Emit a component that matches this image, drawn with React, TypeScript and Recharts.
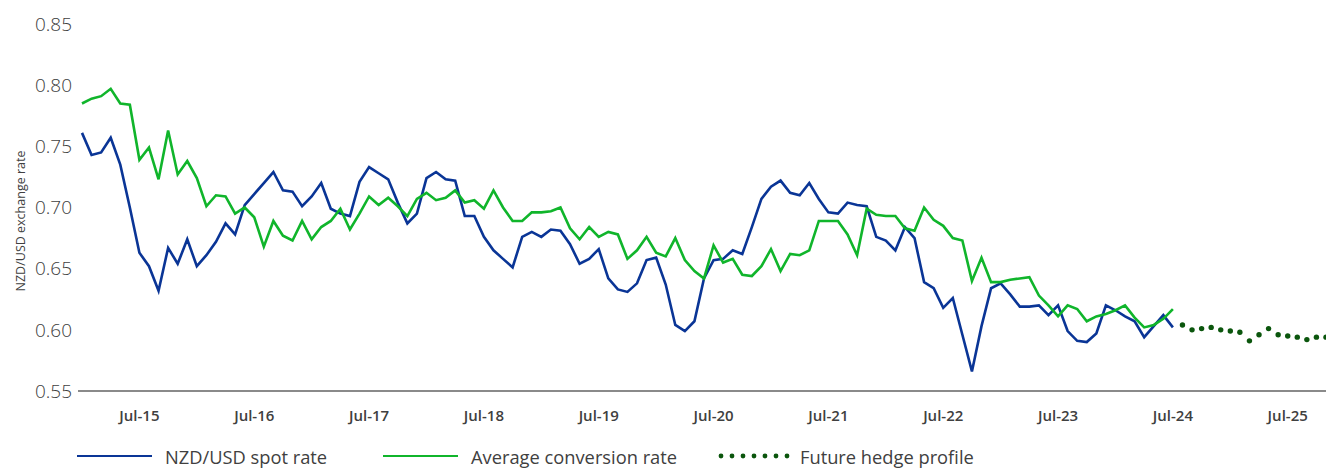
import { LineChart, Line, XAxis, YAxis, Legend } from "recharts";

// monthly data, Jan-15 to Nov-25
const MONTH_NAMES = ["Jan", "Feb", "Mar", "Apr", "May", "Jun", "Jul", "Aug", "Sep", "Oct", "Nov", "Dec"];
const FIRST_YEAR = 15;
const MONTH_COUNT = 131;

const spotRate = [
  0.761, 0.743, 0.745, 0.757, 0.735, 0.7, 0.663, 0.652, 0.632, 0.667, 0.654, 0.674, 0.652,
  0.661, 0.672, 0.687, 0.678, 0.702, 0.711, 0.72, 0.729, 0.714, 0.713, 0.701, 0.709, 0.72,
  0.699, 0.695, 0.693, 0.721, 0.733, 0.728, 0.723, 0.704, 0.687, 0.695, 0.724, 0.729, 0.723,
  0.722, 0.693, 0.693, 0.676, 0.665, 0.658, 0.651, 0.676, 0.68, 0.676, 0.682, 0.681, 0.67,
  0.654, 0.658, 0.666, 0.642, 0.633, 0.631, 0.638, 0.657, 0.659, 0.637, 0.604, 0.599, 0.607,
  0.642, 0.657, 0.658, 0.665, 0.662, 0.684, 0.707, 0.717, 0.722, 0.712, 0.71, 0.72, 0.707,
  0.696, 0.695, 0.704, 0.702, 0.701, 0.676, 0.673, 0.665, 0.684, 0.675, 0.639, 0.634, 0.618,
  0.626, 0.596, 0.566, 0.603, 0.634, 0.638, 0.629, 0.619, 0.619, 0.62, 0.612, 0.62, 0.599,
  0.591, 0.59, 0.597, 0.62, 0.616, 0.611, 0.607, 0.594, 0.603, 0.612, 0.602,
];

const avgConversion = [
  0.785, 0.789, 0.791, 0.797, 0.785, 0.784, 0.739, 0.749, 0.723, 0.763, 0.727, 0.738, 0.724,
  0.701, 0.71, 0.709, 0.695, 0.7, 0.692, 0.668, 0.689, 0.677, 0.673, 0.689, 0.674, 0.684,
  0.689, 0.699, 0.682, 0.695, 0.709, 0.702, 0.708, 0.701, 0.693, 0.707, 0.712, 0.706, 0.708,
  0.714, 0.704, 0.706, 0.699, 0.714, 0.7, 0.689, 0.689, 0.696, 0.696, 0.697, 0.7, 0.683,
  0.674, 0.684, 0.676, 0.68, 0.678, 0.658, 0.665, 0.676, 0.663, 0.66, 0.675, 0.657, 0.648,
  0.642, 0.669, 0.655, 0.658, 0.645, 0.644, 0.652, 0.666, 0.648, 0.662, 0.661, 0.665, 0.689,
  0.689, 0.689, 0.678, 0.661, 0.699, 0.694, 0.693, 0.693, 0.683, 0.681, 0.7, 0.69, 0.685,
  0.675, 0.673, 0.64, 0.659, 0.639, 0.639, 0.641, 0.642, 0.643, 0.628, 0.62, 0.611, 0.62,
  0.617, 0.607, 0.611, 0.613, 0.616, 0.62, 0.61, 0.602, 0.604, 0.609, 0.617,
];

// Aug-24 onwards
const futureHedge = [
  0.604, 0.6, 0.601, 0.602, 0.6, 0.599, 0.598, 0.591, 0.596, 0.601, 0.596, 0.595, 0.594,
  0.592, 0.594, 0.594,
];

const xTicks = ["Jul-15", "Jul-16", "Jul-17", "Jul-18", "Jul-19", "Jul-20", "Jul-21", "Jul-22", "Jul-23", "Jul-24", "Jul-25"];
const yTicks = [0.55, 0.6, 0.65, 0.7, 0.75, 0.8, 0.85];

const BLUE = "#0a3596";
const GREEN = "#10b52b";
const DARK_GREEN = "#0b560d";
const FONT = "'Open Sans', sans-serif";

const months: string[] = [];
for (let i = 0; i < MONTH_COUNT; i++) {
  months.push(`${MONTH_NAMES[i % 12]}-${FIRST_YEAR + Math.floor(i / 12)}`);
}

const hedgeStart = spotRate.length;
const data = months.map((month, i) => ({
  month,
  spot: i < spotRate.length ? spotRate[i] : null,
  avg: i < avgConversion.length ? avgConversion[i] : null,
  hedge: i >= hedgeStart ? futureHedge[i - hedgeStart] ?? null : null,
}));

function ChartLegend() {
  const text = { fontSize: 18.3, color: "#404040", marginLeft: 13, whiteSpace: "nowrap" as const };
  return (
    <div style={{ display: "flex", alignItems: "center", height: 26, paddingLeft: 77, paddingTop: 3, fontFamily: FONT }}>
      <div style={{ display: "flex", alignItems: "center", width: 306 }}>
        <span style={{ width: 75, height: 2.5, background: BLUE, display: "inline-block" }} />
        <span style={text}>NZD/USD spot rate</span>
      </div>
      <div style={{ display: "flex", alignItems: "center", width: 335 }}>
        <span style={{ width: 75, height: 2.5, background: GREEN, display: "inline-block" }} />
        <span style={text}>Average conversion rate</span>
      </div>
      <div style={{ display: "flex", alignItems: "center" }}>
        <svg width={72} height={8}>
          {[0, 1, 2, 3, 4, 5, 6].map((k) => (
            <circle key={k} cx={3 + k * 11} cy={4} r={2.4} fill={DARK_GREEN} />
          ))}
        </svg>
        <span style={{ ...text, marginLeft: 10 }}>Future hedge profile</span>
      </div>
    </div>
  );
}

export default function App() {
  return (
    <div style={{ position: "absolute", left: 0, top: 0, background: "#fff" }}>
      <LineChart width={1326} height={469} data={data} margin={{ top: 24, right: 0, bottom: 0, left: 0 }}>
        <XAxis
          dataKey="month"
          ticks={xTicks}
          interval={0}
          padding={{ left: 4, right: 0 }}
          height={49}
          tickLine={false}
          tickSize={0}
          tickMargin={19}
          axisLine={{ stroke: "#8a8a8a", strokeWidth: 2 }}
          tick={{ fontSize: 15, fontWeight: 600, fill: "#404040", fontFamily: FONT }}
        />
        <YAxis
          domain={[0.55, 0.85]}
          ticks={yTicks}
          width={78}
          axisLine={false}
          tickLine={false}
          tickSize={0}
          tickMargin={6}
          tickFormatter={(v: number) => v.toFixed(2)}
          tick={{ fontSize: 19, fontWeight: 300, fill: "#404040", fontFamily: FONT }}
          label={{
            content: () => (
              <text
                x={20}
                y={221}
                transform="rotate(-90 20 221)"
                textAnchor="middle"
                dominantBaseline="central"
                fontSize={12.5}
                fill="#404040"
                fontFamily={FONT}
              >
                NZD/USD exchange rate
              </text>
            ),
          }}
        />
        <Legend verticalAlign="bottom" align="left" content={() => <ChartLegend />} />
        <Line type="linear" dataKey="spot" stroke={BLUE} strokeWidth={2.6} dot={false} isAnimationActive={false} />
        <Line type="linear" dataKey="avg" stroke={GREEN} strokeWidth={2.6} dot={false} isAnimationActive={false} />
        <Line
          type="linear"
          dataKey="hedge"
          stroke="none"
          strokeWidth={0}
          dot={{ r: 2.7, fill: DARK_GREEN, stroke: "none" }}
          isAnimationActive={false}
        />
      </LineChart>
    </div>
  );
}
